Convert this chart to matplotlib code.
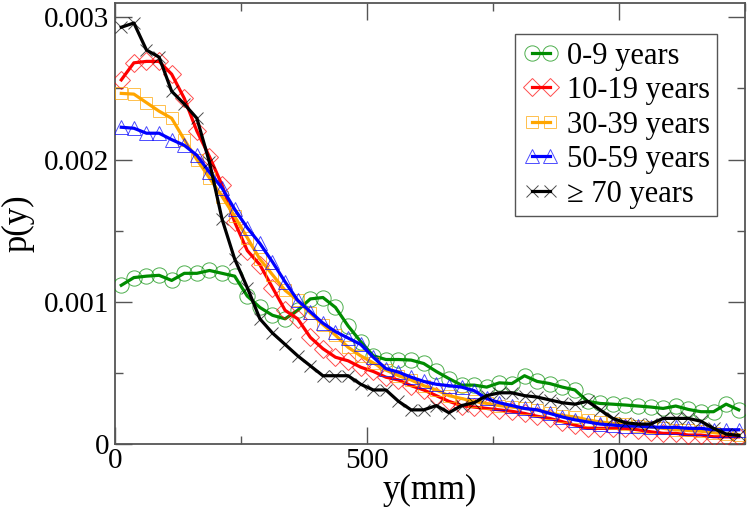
import matplotlib
matplotlib.use("Agg")
import matplotlib.pyplot as plt
from matplotlib.colors import to_rgba
from matplotlib.ticker import MultipleLocator, FuncFormatter

# sample positions (mm)
y_mm = [12.5, 37.5, 62.5, 87.5, 112.5, 137.5, 162.5, 187.5, 212.5, 237.5,
        262.5, 287.5, 312.5, 337.5, 362.5, 387.5, 412.5, 437.5, 462.5, 487.5,
        512.5, 537.5, 562.5, 587.5, 612.5, 637.5, 662.5, 687.5, 712.5, 737.5,
        762.5, 787.5, 812.5, 837.5, 862.5, 887.5, 912.5, 937.5, 962.5, 987.5,
        1012.5, 1037.5, 1062.5, 1087.5, 1112.5, 1137.5, 1162.5, 1187.5, 1212.5, 1237.5]

# p(y) values in units of 1e-3
p_0_9 = [1.116, 1.17, 1.18, 1.186, 1.15, 1.20, 1.20, 1.22, 1.20, 1.18,
         1.04, 0.96, 0.905, 0.88, 0.94, 1.02, 1.03, 0.96, 0.83, 0.72,
         0.62, 0.594, 0.594, 0.59, 0.566, 0.51, 0.46, 0.414, 0.414, 0.40,
         0.43, 0.425, 0.48, 0.44, 0.425, 0.40, 0.38, 0.30, 0.285, 0.28,
         0.274, 0.267, 0.26, 0.25, 0.267, 0.243, 0.227, 0.227, 0.28, 0.24]
p_10_19 = [2.56, 2.68, 2.69, 2.69, 2.60, 2.43, 2.20, 2.02, 1.82, 1.56,
           1.36, 1.26, 1.10, 0.94, 0.88, 0.75, 0.67, 0.61, 0.585, 0.54,
           0.51, 0.47, 0.45, 0.41, 0.38, 0.34, 0.30, 0.27, 0.26, 0.25,
           0.24, 0.23, 0.215, 0.195, 0.18, 0.157, 0.133, 0.11, 0.11, 0.11,
           0.11, 0.10, 0.086, 0.075, 0.075, 0.063, 0.063, 0.051, 0.05, 0.05]
p_30_39 = [2.465, 2.46, 2.40, 2.34, 2.29, 2.14, 2.00, 1.87, 1.74, 1.60,
           1.45, 1.30, 1.19, 1.08, 1.01, 0.92, 0.84, 0.765, 0.68, 0.62,
           0.57, 0.52, 0.48, 0.45, 0.41, 0.38, 0.34, 0.32, 0.30, 0.285,
           0.27, 0.26, 0.25, 0.24, 0.22, 0.20, 0.19, 0.17, 0.155, 0.145,
           0.14, 0.13, 0.12, 0.11, 0.10, 0.095, 0.09, 0.08, 0.07, 0.065]
p_50_59 = [2.227, 2.22, 2.185, 2.185, 2.14, 2.10, 2.03, 1.91, 1.80, 1.65,
           1.52, 1.41, 1.28, 1.14, 1.01, 0.93, 0.85, 0.79, 0.745, 0.70,
           0.61, 0.53, 0.505, 0.47, 0.44, 0.42, 0.41, 0.40, 0.375, 0.32,
           0.29, 0.27, 0.25, 0.24, 0.215, 0.19, 0.17, 0.155, 0.14, 0.133,
           0.126, 0.126, 0.12, 0.117, 0.117, 0.11, 0.11, 0.10, 0.10, 0.10]
p_70 = [2.93, 2.96, 2.77, 2.72, 2.48, 2.39, 2.29, 1.98, 1.58, 1.30,
        1.10, 0.88, 0.78, 0.70, 0.62, 0.55, 0.48, 0.48, 0.48, 0.42,
        0.38, 0.38, 0.30, 0.24, 0.24, 0.27, 0.22, 0.27, 0.29, 0.34,
        0.36, 0.36, 0.34, 0.33, 0.31, 0.29, 0.28, 0.30, 0.24, 0.18,
        0.15, 0.14, 0.14, 0.18, 0.18, 0.18, 0.16, 0.11, 0.07, 0.06]

labels = ["0-9 years", "10-19 years", "30-39 years", "50-59 years", "\u2265 70 years"]
colors = ["#008c00", "#ff0000", "#ffa500", "#0000ff", "#000000"]
markers = ["o", "D", "s", "^", "x"]
msizes = [11, 9, 9, 10, 8]
series = [p_0_9, p_10_19, p_30_39, p_50_59, p_70]

plt.rcParams['font.family'] = ['Liberation Serif', 'DejaVu Serif']

fig = plt.figure(figsize=(7.49, 5.13), dpi=100)
ax = fig.add_axes([0.1535, 0.1345, 0.8412, 0.8595])

for vals, lab, c, m, ms in zip(series, labels, colors, markers, msizes):
    yv = [v * 1e-3 for v in vals]
    ax.plot(y_mm, yv, color=c, lw=2.3, marker=m, ms=ms, mfc='none',
            mec=to_rgba(c, 0.7), mew=0.7, label=lab, zorder=3)

ax.set_xlim(0, 1250)
ax.set_ylim(0, 0.0031)
ax.xaxis.set_major_locator(MultipleLocator(500))
ax.xaxis.set_minor_locator(MultipleLocator(250))
ax.yaxis.set_major_locator(MultipleLocator(0.001))
ax.yaxis.set_minor_locator(MultipleLocator(0.0005))
ax.yaxis.set_major_formatter(FuncFormatter(lambda v, p: "0" if abs(v) < 1e-12 else f"{v:.3f}"))
ax.xaxis.set_major_formatter(FuncFormatter(lambda v, p: f"{v:.0f}"))

ax.tick_params(which='both', direction='in', top=True, right=True, colors='#555555',
               labelcolor='black', labelsize=21)
ax.tick_params(which='major', length=12, width=1.0)
ax.tick_params(which='minor', length=6, width=1.0)
ax.tick_params(axis='x', which='major', pad=3)
ax.tick_params(axis='y', which='major', pad=4)
for s in ax.spines.values():
    s.set_color('#555555')
    s.set_linewidth(1.3)

ax.set_xlabel("y(mm)", fontsize=25, labelpad=0)
ax.set_ylabel("p(y)", fontsize=25, labelpad=7)

leg = ax.legend(loc='upper right', bbox_to_anchor=(0.956, 0.93), borderaxespad=0,
                fontsize=22, numpoints=2, handlelength=1.2, handletextpad=0.25,
                labelspacing=0.18, borderpad=0.25, fancybox=False, framealpha=1,
                edgecolor='#555555')
leg.get_frame().set_linewidth(1.0)

fig.savefig("out.png", dpi=100)
